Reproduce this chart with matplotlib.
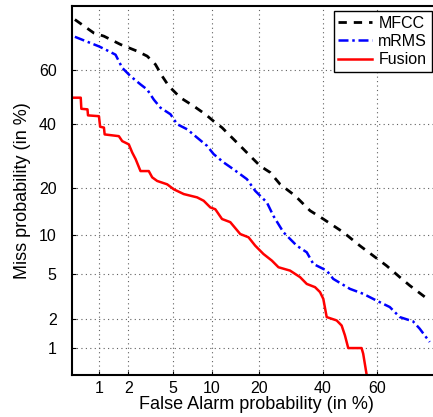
from statistics import NormalDist
import numpy as np
import matplotlib

matplotlib.use('Agg')
from matplotlib import pyplot as plt

plt.rcParams['font.family'] = ['Liberation Sans', 'DejaVu Sans']

# DET curves, values in percent (false alarm, miss)
mfcc_fa = [0.54, 0.88, 1.13, 1.68, 2.43, 3.01, 3.57, 4.09, 4.65, 5.80, 7.37, 9.00, 10.31,
           11.77, 13.69, 15.44, 17.74, 20.25, 22.95, 25.84, 30.51, 35.52, 40.19, 47.46,
           53.60, 58.44, 63.19, 67.72, 70.96, 76.94]
mfcc_miss = [76.3, 72.3, 71.3, 68.6, 66.4, 64.7, 61.8, 57.6, 54.0, 49.7, 46.6, 43.6, 41.1,
             38.8, 35.3, 32.5, 29.2, 26.1, 24.2, 20.9, 18.0, 14.6, 12.9, 10.5,
             8.4, 7.07, 5.9, 4.75, 4.03, 2.96]

mrms_fa = [0.54, 0.81, 1.0, 1.18, 1.49, 1.74, 2.10, 2.61, 3.01, 3.45, 3.95, 4.81, 5.46,
           6.56, 7.82, 9.26, 10.31, 12.06, 14.02, 16.96, 18.97, 22.04, 23.88, 26.83,
           31.07, 34.40, 36.66, 41.41, 43.80, 49.92, 54.81, 59.66, 64.33, 67.72, 71.99,
           74.03, 76.94]
mrms_miss = [71.1, 69.1, 68.0, 66.9, 65.2, 60.6, 57.6, 54.6, 52.7, 49.0, 46.0, 43.6, 40.0,
             38.2, 35.3, 32.5, 29.8, 27.2, 25.1, 22.3, 19.2, 16.4, 13.5, 10.5,
             8.4, 7.5, 6.09, 5.38, 4.59, 3.77, 3.41, 2.96, 2.58, 2.07, 1.88,
             1.59, 1.16]

fusion_fa = [0.45, 0.63, 0.64, 0.75, 0.76, 1.0, 1.03, 1.13, 1.15, 1.61, 1.74, 2.02, 2.18,
             2.35, 2.61, 3.11, 3.34, 3.70, 4.51, 5.12, 6.17, 7.82, 8.75, 9.77, 10.59,
             11.77, 13.35, 15.44, 17.34, 18.97, 21.11, 23.43, 25.34, 28.91, 32.15, 34.40,
             37.26, 39.02, 40.19, 41.41, 45.04, 46.87, 48.08, 49.30, 54.22, 54.81, 56.05,
             56.3]
fusion_miss = [49.7, 49.7, 45.6, 45.4, 43.2, 42.9, 39.1, 38.8, 36.4, 35.8, 34.1, 33.0, 30.3,
               28.2, 24.6, 24.6, 22.8, 21.8, 20.9, 19.6, 18.4, 17.6, 16.8, 15.3, 14.9,
               12.9, 12.3, 10.2, 9.67, 8.41, 7.28, 6.47, 5.73, 5.38, 4.75, 4.16,
               3.90, 3.53, 3.07, 2.07, 1.92, 1.71, 1.36, 1.0, 1.0, 0.87, 0.51,
               0.3]

ticks = [1, 2, 5, 10, 20, 40, 60]

nd = NormalDist()
_ppf = np.vectorize(nd.inv_cdf, otypes=[float])
_cdf = np.vectorize(nd.cdf, otypes=[float])


def probit(p):
    p = np.clip(np.asarray(p, dtype=float) / 100.0, 1e-9, 1 - 1e-9)
    return _ppf(p)


def unprobit(z):
    return _cdf(np.asarray(z, dtype=float)) * 100.0


W, H = 433, 417
fig = plt.figure(figsize=(W / 100, H / 100), dpi=100)
# axes run past the right edge (reference is cropped there)
ax = fig.add_axes([72 / W, 42 / H, 369 / W, 369 / H])
ax.set_xscale('function', functions=(probit, unprobit))
ax.set_yscale('function', functions=(probit, unprobit))

ax.plot(mfcc_fa, mfcc_miss, color='black', linestyle=(0, (3, 2.5)), linewidth=2, label='MFCC')
ax.plot(mrms_fa, mrms_miss, color='blue', linestyle=(0, (4, 1.5, 1, 1.5)), linewidth=1.8, label='mRMS')
ax.plot(fusion_fa, fusion_miss, color='red', linestyle='-', linewidth=1.8, label='Fusion')

ax.set_xlim(0.5, 80)
ax.set_ylim(0.5, 80)
ax.set_xticks(ticks)
ax.set_yticks(ticks)
ax.set_xticklabels([str(t) for t in ticks])
ax.set_yticklabels([str(t) for t in ticks])
ax.minorticks_off()
ax.tick_params(direction='in', length=3, labelsize=11.5)
ax.tick_params(axis='x', pad=4)
ax.tick_params(axis='y', pad=11)
ax.grid(True, linestyle=(0, (1, 3)), color='#606060', linewidth=0.8)

for s in ax.spines.values():
    s.set_linewidth(1.5)

ax.set_xlabel('False Alarm probability (in %)', fontsize=13, labelpad=0)
ax.set_ylabel('Miss probability (in %)', fontsize=13, labelpad=6)

ax.legend(loc='upper right', bbox_to_anchor=(432 / W, 1 - 11 / H), bbox_transform=fig.transFigure,
          fancybox=False, edgecolor='black', framealpha=1, borderaxespad=0, fontsize=11.5,
          handlelength=2.1, borderpad=0.3, labelspacing=0.2, handletextpad=0.4)

fig.savefig('out.png', dpi=100)
